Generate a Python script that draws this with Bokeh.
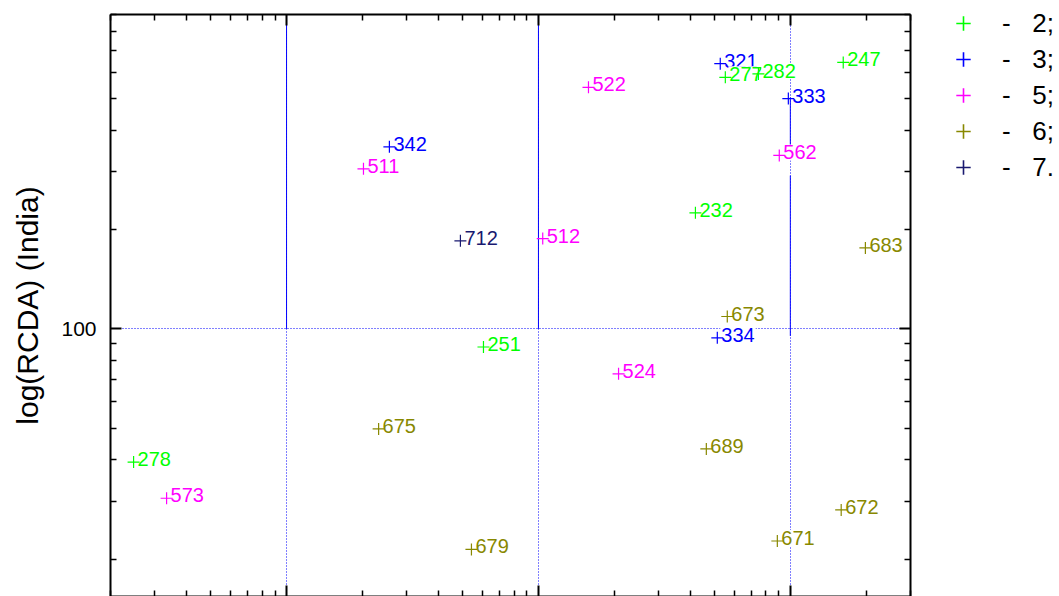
from bokeh.plotting import figure
from bokeh.layouts import row
from bokeh.models import (ColumnDataSource, FixedTicker, LogAxis, Legend, LegendItem,
                          BasicTickFormatter, Range1d)
from bokeh.core.properties import value
from bokeh.embed import file_html
from bokeh.resources import INLINE

# ---------------- data ----------------
s2_x = [1622, 552, 747, 420, 60.5, 2.47]
s2_y = [644, 580, 594, 225, 88.1, 39.4]
s2_lab = ["247", "277", "282", "232", "251", "278"]

s3_x = [527, 982, 25.6, 513]
s3_y = [638, 500, 357, 93.9]
s3_lab = ["321", "333", "342", "334"]

s5_x = [158, 20.2, 904, 104, 208, 3.34]
s5_y = [541, 306, 336, 188, 73.0, 30.6]
s5_lab = ["522", "511", "562", "512", "524", "573"]

s6_x = [1986, 562, 23.2, 464, 1592, 888, 54.2]
s6_y = [176, 109, 49.7, 43.2, 28.2, 22.7, 21.4]
s6_lab = ["683", "673", "675", "689", "672", "671", "679"]

s7_x = [49.0]
s7_y = [185]
s7_lab = ["712"]

legend_labels = ["2;", "3;", "5;", "6;", "7."]

# vertical solid reference lines
line_x = [10, 100, 1000, 1000]
line_y0 = [100, 100, 95.2, 352]
line_y1 = [900, 900, 292, 504]

x_major = [10, 100, 1000]
x_minor = [2, 3, 4, 5, 6, 7, 8, 9, 20, 30, 40, 50, 60, 70, 80, 90,
           200, 300, 400, 500, 600, 700, 800, 900, 2000, 3000]
y_major = [10, 100, 1000]
y_minor = [20, 30, 40, 50, 60, 70, 80, 90, 200, 300, 400, 500, 600, 700, 800, 900]

# ---------------- styles ----------------
C2, C3, C5, C6, C7 = "#00ff00", "#0000ff", "#ff00ff", "#888800", "#191970"
FONT = "Liberation Sans"

p = figure(width=915, height=596, x_axis_type="log", y_axis_type="log",
           x_range=Range1d(2, 3000), y_range=Range1d(15.4, 900),
           output_backend="svg", toolbar_location=None,
           min_border_left=110, min_border_right=5, min_border_top=14,
           min_border_bottom=0)
p.outline_line_color = None
p.background_fill_color = "white"
p.border_fill_color = "white"


def style_axis(ax, ticks, minor, show_labels):
    ax.ticker = FixedTicker(ticks=ticks, minor_ticks=minor)
    ax.axis_line_width = 2
    ax.axis_line_color = "black"
    ax.major_tick_in = 11
    ax.major_tick_out = 0
    ax.minor_tick_in = 6
    ax.minor_tick_out = 0
    ax.major_tick_line_width = 2
    ax.minor_tick_line_width = 1.5
    ax.major_tick_line_color = "black"
    ax.minor_tick_line_color = "black"
    if not show_labels:
        ax.major_label_text_font_size = "1px"
        ax.major_label_text_color = None
        ax.major_label_standoff = 0


style_axis(p.below[0], x_major, x_minor, False)
style_axis(p.left[0], y_major, y_minor, True)
top_ax = LogAxis()
style_axis(top_ax, x_major, x_minor, False)
p.add_layout(top_ax, "above")
right_ax = LogAxis()
style_axis(right_ax, y_major, y_minor, False)
p.add_layout(right_ax, "right")

left = p.left[0]
left.formatter = BasicTickFormatter()
left.major_label_text_font = FONT
left.major_label_text_font_size = "21px"
left.major_label_text_color = "black"
left.major_label_standoff = 14
left.axis_label = "log(RCDA) (India)"
left.axis_label_text_font = FONT
left.axis_label_text_font_size = "30px"
left.axis_label_text_font_style = "normal"
left.axis_label_text_color = "black"
left.axis_label_standoff = 14

p.xgrid.ticker = FixedTicker(ticks=x_major)
p.ygrid.ticker = FixedTicker(ticks=y_major)
for g in (p.xgrid, p.ygrid):
    g.grid_line_color = "#0000ff"
    g.grid_line_dash = "1 2"
    g.grid_line_width = 1
    g.minor_grid_line_color = None

# solid vertical lines
p.segment(x0=line_x, y0=line_y0, x1=line_x, y1=line_y1, line_color="#0000ff", line_width=1)

# labels (one table, drawn in series order so that boxes overlap as in the original)
series = [(s3_x, s3_y, s3_lab, C3), (s2_x, s2_y, s2_lab, C2), (s5_x, s5_y, s5_lab, C5),
          (s6_x, s6_y, s6_lab, C6), (s7_x, s7_y, s7_lab, C7)]
tx, ty, tl, tc = [], [], [], []
for xs, ys, ls, c in series:
    tx += xs
    ty += ys
    tl += ls
    tc += [c] * len(xs)
src = ColumnDataSource(dict(x=tx, y=ty, lab=tl, color=tc))
p.text(x="x", y="y", text="lab", source=src, text_color="color",
       text_font=value(FONT), text_font_size=value("20px"),
       text_align="left", text_baseline="middle", x_offset=3, y_offset=-3,
       background_fill_color="white", padding=1)

# markers
series_marks = [("2", s2_x, s2_y, C2), ("3", s3_x, s3_y, C3), ("5", s5_x, s5_y, C5),
                ("6", s6_x, s6_y, C6), ("7", s7_x, s7_y, C7)]
for key, xs, ys, c in series_marks:
    p.scatter(x=xs, y=ys, marker="cross", size=12, line_color=c, line_width=1.2)

# ---------------- legend panel (separate narrow figure to the right) ----------------
# Its ranges (0..1) keep the series' own points out of view; only the legend shows.
q = figure(width=144, height=596, output_backend="svg", toolbar_location=None,
           x_range=Range1d(0, 1), y_range=Range1d(0, 1),
           x_axis_location=None, y_axis_location=None, min_border=0)
q.outline_line_color = None
q.grid.visible = False
q.background_fill_color = "white"
q.border_fill_color = "white"

leg_renderers = []
for key, xs, ys, c in series_marks:
    leg_renderers.append(q.scatter(x=xs, y=ys, marker="cross", size=17,
                                   line_color=c, line_width=1.6))

items = [LegendItem(label="-\u00a0\u00a0\u00a0" + lab, renderers=[r])
         for r, lab in zip(leg_renderers, legend_labels)]
legend = Legend(items=items, location=(29, 411), orientation="vertical",
                glyph_width=38, glyph_height=36, label_height=36, spacing=0,
                padding=0, margin=0, label_standoff=20,
                label_text_font=FONT, label_text_font_size="26px", label_text_color="black",
                border_line_color=None, background_fill_alpha=0)
q.add_layout(legend)

layout = row(p, q)
open("out.html", "w").write(file_html(layout, INLINE))
